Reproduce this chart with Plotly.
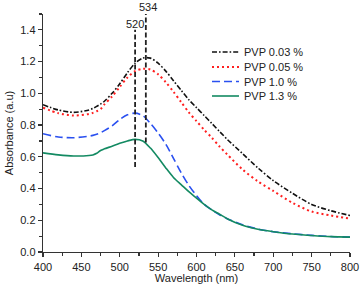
import plotly.graph_objects as go

wavelength = [400, 420, 440, 460, 465, 470, 475, 480, 490, 500, 510, 520, 530, 540, 550,
              560, 570, 580, 590, 600, 610, 620, 630, 640, 660, 680, 700, 725, 750, 775, 800]

pvp_003 = [0.928, 0.895, 0.88, 0.895, 0.905, 0.918, 0.932, 0.95, 1.0, 1.06, 1.13, 1.19, 1.222, 1.222, 1.19,
           1.14, 1.08, 1.02, 0.96, 0.91, 0.86, 0.81, 0.76, 0.71, 0.62, 0.53, 0.45, 0.37, 0.30, 0.26, 0.23]
pvp_005 = [0.91, 0.875, 0.86, 0.87, 0.877, 0.887, 0.90, 0.93, 0.98, 1.04, 1.10, 1.14, 1.155, 1.15, 1.12,
           1.07, 1.01, 0.945, 0.88, 0.825, 0.77, 0.72, 0.665, 0.615, 0.52, 0.445, 0.385, 0.31, 0.255, 0.23, 0.21]
pvp_10 = [0.745, 0.725, 0.72, 0.73, 0.735, 0.742, 0.752, 0.765, 0.795, 0.835, 0.865, 0.875, 0.86, 0.81, 0.75,
          0.68, 0.59, 0.50, 0.42, 0.355, 0.30, 0.265, 0.235, 0.21, 0.172, 0.145, 0.128, 0.115, 0.105, 0.098, 0.094]
pvp_13 = [0.625, 0.612, 0.605, 0.608, 0.612, 0.622, 0.64, 0.65, 0.667, 0.685, 0.70, 0.71, 0.70, 0.655, 0.595,
          0.53, 0.47, 0.425, 0.38, 0.34, 0.30, 0.265, 0.238, 0.21, 0.168, 0.143, 0.128, 0.113, 0.104, 0.097, 0.094]

series_names = ["PVP 0.03 %", "PVP 0.05 %", "PVP 1.0 %", "PVP 1.3 %"]
peak_positions = [520, 534]
peak_line_ranges = [(0.535, 1.40), (0.69, 1.5)]

FONT = "Liberation Sans, Arial, sans-serif"
W, H = 361, 289
ML, MR, MT, MB = 43, 11, 14, 37
PW, PH = W - ML - MR, H - MT - MB


def px_to_paper(px, py):
    return (px - ML) / PW, (H - MB - py) / PH


fig = go.Figure()
styles = [
    dict(color="#111111", width=1.6, dash="5px,2px,1.6px,2px"),
    dict(color="#ff2020", width=2, dash="2px,3px"),
    dict(color="#2a50f0", width=1.6, dash="8px,4px"),
    dict(color="#138a62", width=1.6),
]
for name, ys, st in zip(series_names, [pvp_003, pvp_005, pvp_10, pvp_13], styles):
    fig.add_trace(go.Scatter(x=wavelength, y=ys, mode="lines", name=name, showlegend=False,
                             line=dict(shape="spline", smoothing=0.8, **st)))

for xp, (y0, y1) in zip(peak_positions, peak_line_ranges):
    fig.add_shape(type="line", xref="x", yref="y", x0=xp, x1=xp, y0=y0, y1=y1,
                  line=dict(color="#222222", width=1.8, dash="5px,2.5px"))

fig.add_annotation(x=520, y=1.40, xref="x", yref="y", text="520", showarrow=False,
                   yanchor="bottom", yshift=-2, font=dict(family=FONT, size=11, color="#222"))
fig.add_annotation(x=534, y=1.0, xref="x", yref="paper", text="534", showarrow=False,
                   yanchor="bottom", xshift=2, yshift=-1, font=dict(family=FONT, size=11, color="#222"))

# manual legend (compact spacing like the original)
legend_rows_py = [52, 67, 81.5, 96]
for name, st, py in zip(series_names, styles, legend_rows_py):
    x0, y = px_to_paper(212, py)
    x1, _ = px_to_paper(239, py)
    fig.add_shape(type="line", xref="paper", yref="paper", x0=x0, x1=x1, y0=y, y1=y,
                  line=dict(st))
    xt, _ = px_to_paper(242, py)
    fig.add_annotation(x=xt, y=y, xref="paper", yref="paper", text=name, showarrow=False,
                       xanchor="left", yanchor="middle", font=dict(family=FONT, size=11, color="#222"))

axis_common = dict(showline=True, linecolor="#333", linewidth=1.3, ticks="outside",
                   ticklen=4, tickwidth=1.2, tickcolor="#333", showgrid=False, zeroline=False,
                   mirror=False, automargin=False, tickfont=dict(family=FONT, size=11, color="#222"))

fig.update_xaxes(range=[400, 800], dtick=50, tick0=400,
                 minor=dict(dtick=25, ticklen=2.5, tickcolor="#333", ticks="outside"),
                 title=dict(text="Wavelength (nm)", font=dict(family=FONT, size=11, color="#222"), standoff=2),
                 **axis_common)
fig.update_yaxes(range=[0, 1.5], dtick=0.2, tick0=0, tickformat=".1f",
                 minor=dict(dtick=0.1, ticklen=2.5, tickcolor="#333", ticks="outside"),
                 title=dict(text="Absorbance (a.u)", font=dict(family=FONT, size=11, color="#222"), standoff=4),
                 **axis_common)

fig.update_layout(
    width=W, height=H,
    margin=dict(l=ML, r=MR, t=MT, b=MB, autoexpand=False),
    plot_bgcolor="white", paper_bgcolor="white",
    font=dict(family=FONT, size=11, color="#222"),
    showlegend=False,
)

fig.write_html("out.html", config={"displayModeBar": False, "staticPlot": True},
               post_script="document.body.style.margin='0';document.body.style.padding='0';")
